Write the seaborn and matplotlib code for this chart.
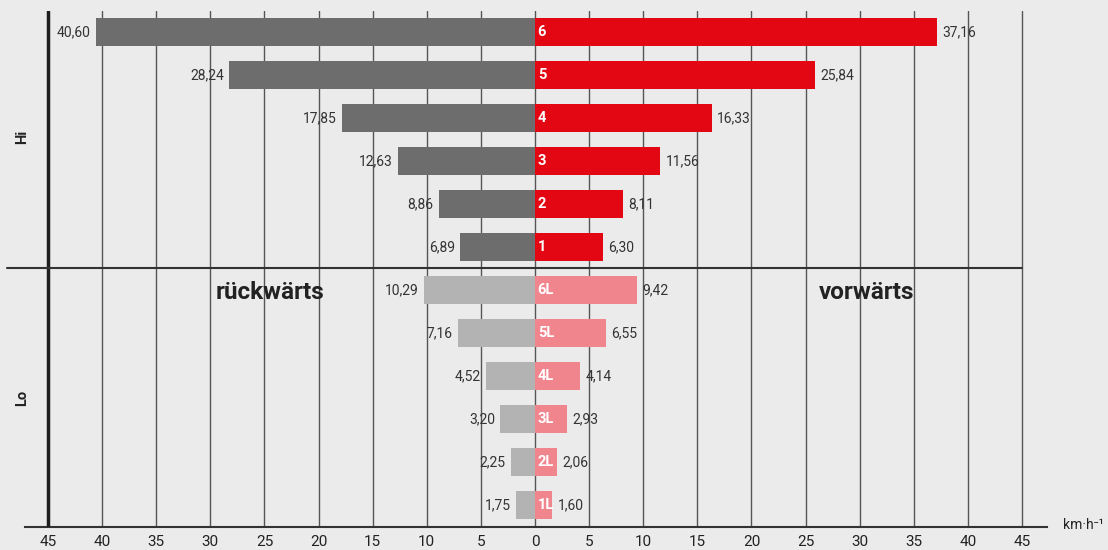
import numpy as np
import pandas as pd
import seaborn as sns
import matplotlib.pyplot as plt

sns.set_style('white')
plt.rcParams['font.family'] = ['Roboto', 'DejaVu Sans']

# gear speeds in km/h
gears = ['6', '5', '4', '3', '2', '1', '6L', '5L', '4L', '3L', '2L', '1L']
rueckwaerts = [40.60, 28.24, 17.85, 12.63, 8.86, 6.89, 10.29, 7.16, 4.52, 3.20, 2.25, 1.75]
vorwaerts = [37.16, 25.84, 16.33, 11.56, 8.11, 6.30, 9.42, 6.55, 4.14, 2.93, 2.06, 1.60]
ticks = list(range(-45, 50, 5))

col_back = ['#6d6d6d'] * 6 + ['#b3b3b3'] * 6
col_fwd = ['#e30613'] * 6 + ['#f0858e'] * 6

df = pd.DataFrame({'gear': gears, 'back': [-v for v in rueckwaerts], 'fwd': vorwaerts})

fig = plt.figure(figsize=(11.08, 5.5), dpi=100)
fig.patch.set_facecolor('#ebebeb')
ax = fig.add_axes([25 / 1108, 23 / 550, 1022 / 1108, 516 / 550])
ax.set_facecolor('none')

sns.barplot(data=df, x='back', y='gear', hue='gear', palette=col_back, orient='h',
            width=0.67, saturation=1, linewidth=0, legend=False, ax=ax, zorder=3)
sns.barplot(data=df, x='fwd', y='gear', hue='gear', palette=col_fwd, orient='h',
            width=0.67, saturation=1, linewidth=0, legend=False, ax=ax, zorder=3)

ax.set_xlim(-47.125, 47.31)
ax.set_ylim(11.512, -0.488)

# vertical grid
for t in ticks[1:]:
    ax.axvline(t, color='#555555', lw=1.0, zorder=1)
ax.axvline(-45, color='#1e1e1e', lw=2.5, zorder=4)

for s in ['top', 'right', 'left']:
    ax.spines[s].set_visible(False)
ax.spines['bottom'].set_color('#333333')
ax.spines['bottom'].set_linewidth(1.5)

ax.set_xticks(ticks)
ax.set_xticklabels([str(abs(t)) for t in ticks], fontsize=11, color='#222222')
ax.tick_params(axis='x', length=0, pad=6)
ax.set_yticks([])
ax.set_xlabel('')
ax.set_ylabel('')

# Hi / Lo separator
ax.plot([-48.8, 45], [5.5, 5.5], color='#333333', lw=1.5, clip_on=False, zorder=4)

def fmt(v):
    return f'{v:.2f}'.replace('.', ',')

for i, g in enumerate(gears):
    ax.text(-rueckwaerts[i] - 0.5, i, fmt(rueckwaerts[i]), ha='right', va='center',
            fontsize=10, color='#333333', zorder=5)
    ax.text(vorwaerts[i] + 0.5, i, fmt(vorwaerts[i]), ha='left', va='center',
            fontsize=10, color='#333333', zorder=5)
    ax.text(0.25, i, g, ha='left', va='center', fontsize=10.5, color='white',
            fontweight='bold', zorder=5)

ax.text(-24.5, 6.07, 'rückwärts', ha='center', va='center', fontsize=17.5,
        fontweight='bold', color='#222222', zorder=5)
ax.text(30.6, 6.07, 'vorwärts', ha='center', va='center', fontsize=17.5,
        fontweight='bold', color='#222222', zorder=5)

fig.text(22 / 1108, 1 - 137 / 550, 'Hi', rotation=90, ha='center', va='center',
         fontsize=10.5, fontweight='bold', color='#222222')
fig.text(22 / 1108, 1 - 398 / 550, 'Lo', rotation=90, ha='center', va='center',
         fontsize=10.5, fontweight='bold', color='#222222')
fig.text(1083 / 1108, 1 - 525 / 550, 'km·h⁻¹', ha='center', va='center',
         fontsize=10, color='#222222')

fig.savefig('out.png', dpi=100, facecolor=fig.get_facecolor())
